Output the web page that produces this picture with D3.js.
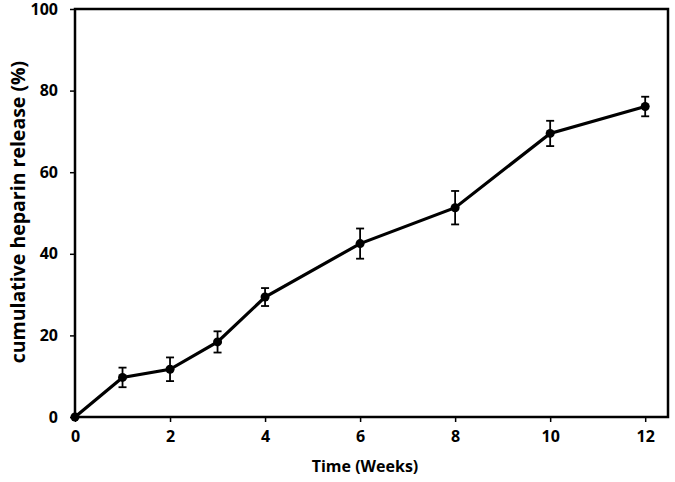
<!DOCTYPE html>
<html>
<head>
<meta charset="utf-8">
<script src="https://cdn.jsdelivr.net/npm/d3@7"></script>
<style>
  body { margin: 0; background: #fff; }
  text { font-family: "Open Sans", sans-serif; font-weight: bold; fill: #000; }
</style>
</head>
<body>
<div id="chart"></div>
<script>
// release data
var weeks   = [0, 1, 2, 3, 4, 6, 8, 10, 12];
var release = [0, 9.7, 11.7, 18.4, 29.4, 42.5, 51.3, 69.5, 76.1];
var errs    = [0, 2.4, 2.9, 2.6, 2.2, 3.7, 4.1, 3.1, 2.4];
var xTicks  = [0, 2, 4, 6, 8, 10, 12];
var yTicks  = [0, 20, 40, 60, 80, 100];

var W = 675, H = 482;
var margin = {top: 9, right: 7, bottom: 65, left: 75};

var svg = d3.select("#chart").append("svg")
    .attr("width", W).attr("height", H);

var g = svg.append("g")
    .attr("transform", "translate(" + margin.left + "," + margin.top + ")");

var w = W - margin.left - margin.right,
    h = H - margin.top - margin.bottom;

var x = d3.scaleLinear().domain([0, 12.48]).range([0, w]);
var y = d3.scaleLinear().domain([0, 100]).range([h, 0]);

// plot frame
g.append("rect")
    .attr("width", w).attr("height", h)
    .attr("fill", "none").attr("stroke", "#000").attr("stroke-width", 2.5);

var xAxis = g.append("g")
    .attr("transform", "translate(0," + h + ")")
    .call(d3.axisBottom(x).tickValues(xTicks).tickSize(5).tickPadding(9));
var yAxis = g.append("g")
    .call(d3.axisLeft(y).tickValues(yTicks).tickSize(5).tickPadding(12));

[xAxis, yAxis].forEach(function(a) {
    a.select(".domain").remove();
    a.selectAll("line").attr("stroke", "#000").attr("stroke-width", 1.5);
    a.selectAll("text").style("font-size", "16px");
});

// series line
var line = d3.line()
    .x(function(d, i) { return x(weeks[i]); })
    .y(function(d) { return y(d); });

g.append("path")
    .datum(release)
    .attr("d", line)
    .attr("fill", "none").attr("stroke", "#000").attr("stroke-width", 3.2);

// error bars
var eb = g.selectAll(".eb")
    .data(release.map(function(v, i) { return {x: weeks[i], v: v, e: errs[i]}; })
        .filter(function(d) { return d.e > 0; }))
    .enter().append("g");

eb.append("line")
    .attr("x1", function(d) { return x(d.x); }).attr("x2", function(d) { return x(d.x); })
    .attr("y1", function(d) { return y(d.v - d.e); }).attr("y2", function(d) { return y(d.v + d.e); })
    .attr("stroke", "#000").attr("stroke-width", 1.8);
[-1, 1].forEach(function(s) {
    eb.append("line")
        .attr("x1", function(d) { return x(d.x) - 4; }).attr("x2", function(d) { return x(d.x) + 4; })
        .attr("y1", function(d) { return y(d.v + s * d.e); }).attr("y2", function(d) { return y(d.v + s * d.e); })
        .attr("stroke", "#000").attr("stroke-width", 1.8);
});

g.selectAll(".dot")
    .data(release)
    .enter().append("circle")
    .attr("cx", function(d, i) { return x(weeks[i]); })
    .attr("cy", function(d) { return y(d); })
    .attr("r", 4.5)
    .attr("fill", "#000");

// axis titles
svg.append("text")
    .attr("x", 365)
    .attr("y", 472)
    .attr("text-anchor", "middle")
    .style("font-size", "16px")
    .text("Time (Weeks)");

svg.append("text")
    .attr("transform", "translate(25,212) rotate(-90)")
    .attr("text-anchor", "middle")
    .style("font-size", "19.5px")
    .text("cumulative heparin release (%)");
</script>
</body>
</html>
